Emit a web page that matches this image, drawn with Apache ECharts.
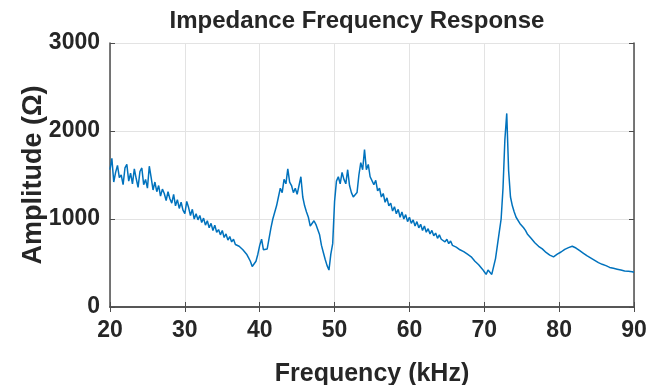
<!DOCTYPE html>
<html><head><meta charset="utf-8">
<script src="https://cdn.jsdelivr.net/npm/echarts@6/dist/echarts.min.js"></script>
<style>html,body{margin:0;padding:0;background:#fff}#c{width:664px;height:385px}</style>
</head><body><div id="c"></div>
<script>
const title = "Impedance Frequency Response";
const xName = "Frequency (kHz)";
const yName = "Amplitude (\u03A9)";
const freqStart = 20;   // kHz
const freqStep = 0.25;  // kHz
const xTicks = [20, 30, 40, 50, 60, 70, 80, 90];
const yTicks = [0, 1000, 2000, 3000];
// amplitude (Ohm), one value per 0.25 kHz from 20 to 90 kHz
const amplitude = [
  1560,1690,1420,1530, 1610,1470,1500,1390, 1580,1620,1430,1520, 1400,1570,1460,1360,
  1540,1580,1390,1450, 1350,1600,1470,1330, 1420,1310,1380,1260, 1340,1290,1210,1310,
  1230,1180,1280,1150, 1220,1120,1190,1100, 1060,1200,1130,1040, 1110,1000,1060,990,
  1040,960,1010,930, 980,900,950,870, 930,850,880,820, 870,790,830,760,
  800,740,770,710, 720,690,710,650, 650,600,560,520, 460,450,520,600,
  700,770,650,640, 660,780,900,1000, 1020,1150,1250,1350, 1300,1450,1400,1570,
  1420,1380,1300,1350, 1280,1300,1480,1250, 1150,1080,1020,920, 900,980,940,880,
  820,700,620,540, 470,420,600,720, 1200,1430,1480,1400, 1530,1450,1400,1560,
  1380,1300,1250,1230, 1300,1500,1640,1560, 1790,1560,1620,1480, 1500,1390,1440,1320,
  1350,1250,1290,1190, 1240,1150,1180,1090, 1140,1060,1110,1020, 1080,1000,1050,970,
  1020,950,990,920, 970,900,940,870, 920,850,890,830, 870,810,840,780,
  820,770,790,740, 770,720,750,700, 720,680,700,650, 670,630,650,600,
  590,570,560,520, 520,480,470,430, 400,370,420,400, 370,380,550,700,
  850,1000,1350,1900, 2200,1550,1250,1150, 1080,1020,1000,950, 940,900,870,830,
  810,780,760,730, 710,690,680,660, 640,620,600,590, 575,570,585,600,
  610,625,640,655, 660,675,680,690, 680,670,650,640, 625,610,595,580,
  565,555,540,530, 520,505,495,485, 480,470,460,450, 450,440,435,430,
  425,420,415,410, 410,405,400,400, 395
];
const data = amplitude.map((v, i) => [freqStart + i * freqStep, v]);

const font = '"Liberation Sans", Arial, sans-serif';
const axisColor = '#4d4d4d';
const textColor = '#262626';
const chart = echarts.init(document.getElementById('c'), null, {renderer: 'canvas'});
const boxAxis = {
  axisLine: {show: true, lineStyle: {color: axisColor, width: 1.5}},
  axisTick: {show: true, inside: true, length: 5, lineStyle: {color: axisColor}},
  axisLabel: {show: false},
  splitLine: {show: false}
};
chart.setOption({
  animation: false,
  title: {text: title, left: 352, top: 4, textAlign: 'center',
    textStyle: {fontFamily: font, fontWeight: 'bold', fontSize: 24, color: textColor}},
  grid: {left: 110, right: 30, top: 43, bottom: 78, outerBoundsMode: 'none', containLabel: false},
  xAxis: [{
    type: 'value', min: xTicks[0], max: xTicks[xTicks.length - 1], interval: 10,
    name: xName, nameLocation: 'middle', nameGap: 55, nameMoveOverlap: false,
    nameTextStyle: {fontFamily: font, fontWeight: 'bold', fontSize: 25, color: textColor},
    axisLine: {show: true, lineStyle: {color: axisColor, width: 1.5}},
    axisTick: {show: true, inside: true, length: 5, lineStyle: {color: axisColor}},
    axisLabel: {fontFamily: font, fontWeight: 'bold', fontSize: 23, color: textColor, margin: 12,
      formatter: v => String(v)},
    splitLine: {show: true, lineStyle: {color: '#e3e3e3', width: 1}}
  }, Object.assign({type: 'value', position: 'top', min: 20, max: 90, interval: 10}, boxAxis)],
  yAxis: [{
    type: 'value', min: yTicks[0], max: yTicks[yTicks.length - 1], interval: 1000,
    name: yName, nameLocation: 'middle', nameGap: 63, nameMoveOverlap: false,
    nameTextStyle: {fontFamily: font, fontWeight: 'bold', fontSize: 27, color: textColor},
    axisLine: {show: true, lineStyle: {color: axisColor, width: 1.5}},
    axisTick: {show: true, inside: true, length: 5, lineStyle: {color: axisColor}},
    axisLabel: {fontFamily: font, fontWeight: 'bold', fontSize: 23, color: textColor, margin: 10,
      formatter: v => String(v)},
    splitLine: {show: true, lineStyle: {color: '#e3e3e3', width: 1}}
  }, Object.assign({type: 'value', position: 'right', min: 0, max: 3000, interval: 1000}, boxAxis)],
  series: [{
    type: 'line', data: data, showSymbol: false, symbol: 'none',
    lineStyle: {color: '#0072BD', width: 1.5}, z: 5
  }]
});
</script></body></html>
